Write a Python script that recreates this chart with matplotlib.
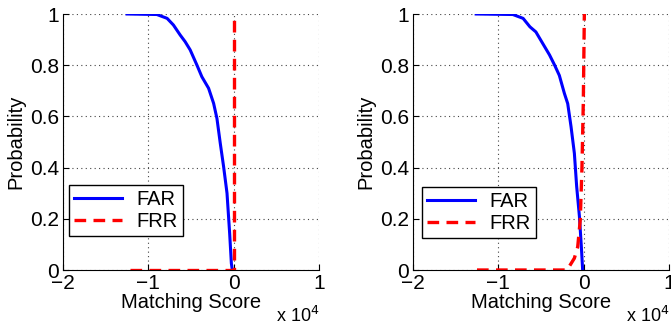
import numpy as np
import matplotlib.pyplot as plt

plt.rcParams['font.family'] = ['Liberation Sans', 'DejaVu Sans']

# scores in units of 1e4
far1_x = [-1.25, -0.9, -0.78, -0.706, -0.627, -0.569, -0.51, -0.43, -0.373, -0.294,
          -0.235, -0.196, -0.157, -0.118, -0.078, -0.047, -0.027, -0.016]
far1_y = [1.0, 0.998, 0.983, 0.957, 0.918, 0.892, 0.86, 0.80, 0.755, 0.71,
          0.651, 0.592, 0.495, 0.404, 0.30, 0.143, 0.026, 0.0]
frr1_x = [-1.22, -0.01, 0.0, 0.0]
frr1_y = [0.0, 0.0, 0.0, 1.0]

far2_x = [-1.26, -0.83, -0.71, -0.63, -0.56, -0.48, -0.40, -0.34, -0.285, -0.226,
          -0.187, -0.148, -0.109, -0.082, -0.05, -0.027, -0.012]
far2_y = [1.0, 0.998, 0.983, 0.95, 0.93, 0.885, 0.84, 0.80, 0.76, 0.69,
          0.65, 0.56, 0.456, 0.326, 0.21, 0.09, 0.0]
frr2_x = [-1.25, -0.2, -0.17, -0.109, -0.07, -0.04, -0.02, -0.004, 0.008]
frr2_y = [0.0, 0.0, 0.013, 0.046, 0.09, 0.195, 0.40, 0.66, 1.0]

xticks = [-2, -1, 0, 1]
yticks = [0, 0.2, 0.4, 0.6, 0.8, 1]

fig = plt.figure(figsize=(6.71, 3.29), dpi=100)
W, H = 671, 329

panels = [
    (63, far1_x, far1_y, frr1_x, frr1_y, (0.023, 0.133)),
    (413, far2_x, far2_y, frr2_x, frr2_y, (0.035, 0.125)),
]

for left, fx, fy, rx, ry, leg_pos in panels:
    ax = fig.add_axes([left / W, (329 - 270) / H, 256 / W, 256 / H])
    ax.plot(fx, fy, color='#0000ff', lw=2.2, label='FAR')
    ax.plot(rx, ry, color='#ff0000', lw=2.4, ls=(0, (3.5, 2.2)), label='FRR')
    ax.set_xlim(-2, 1)
    ax.set_ylim(0, 1)
    ax.set_xticks(xticks)
    ax.set_yticks(yticks)
    ax.set_yticklabels(['0', '0.2', '0.4', '0.6', '0.8', '1'])
    ax.grid(True, ls=(0, (1, 3)), color='#444444', lw=0.8)
    ax.tick_params(direction='in', labelsize=15, length=4, pad=3)
    for s in ['top', 'right']:
        ax.spines[s].set_visible(False)
    ax.set_xlabel('Matching Score', fontsize=14.5, labelpad=0)
    ax.set_ylabel('Probability', fontsize=14.5, labelpad=3)
    ax.text(1.0, -0.205, r'x 10$^{4}$', transform=ax.transAxes, ha='right', va='baseline', fontsize=13)
    leg = ax.legend(loc='lower left', bbox_to_anchor=leg_pos, borderaxespad=0,
                    fancybox=False, edgecolor='black', fontsize=14.5, handlelength=2.4,
                    framealpha=1, borderpad=0.25, labelspacing=0.15, handletextpad=0.7)
    leg.get_frame().set_linewidth(1.0)

fig.savefig('out.png', dpi=100)
